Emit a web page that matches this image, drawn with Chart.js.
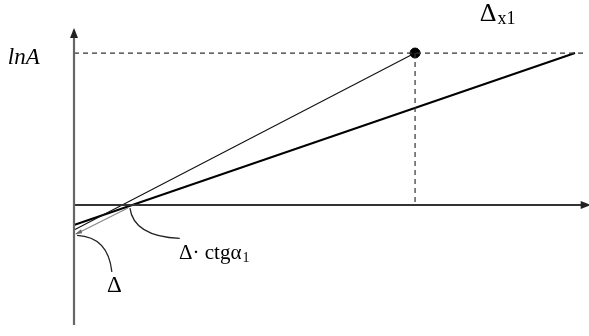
<!DOCTYPE html>
<html>
<head>
<meta charset="utf-8">
<script src="https://cdn.jsdelivr.net/npm/chart.js@4.4.0/dist/chart.umd.min.js"></script>
<style>
  html, body { margin: 0; padding: 0; background: #fff; }
  #wrap { width: 589px; height: 336px; }
</style>
</head>
<body>
<div id="wrap"><canvas id="lnChart"></canvas></div>
<script>
// coordinates in plot units: origin where the axes cross
const axisX = [[0, 0], [15.0, 0]];
const axisY = [[0, -7.9], [0, 11.5]];
const levelLnA = [[0, 10], [15.0, 10]];       // dashed lnA level
const dropX1 = [[10, 10], [10, 0]];           // dashed drop from the point
const mainLine = [[0, -1.32], [14.69, 10]];   // thick line
const thinLine = [[0, -1.64], [10, 10]];      // thin line to the point
const greyLine = [[0.06, -1.91], [1.58, -0.2]];
const markPoint = [[10, 10]];

// leader curves: start, control, end
const leaderDelta = [[0.09, -2.0], [1.0, -2.1], [1.11, -4.4]];
const leaderCtg = [[1.64, -0.2], [1.75, -2.05], [3.1, -2.2]];

const toXY = arr => arr.map(p => ({ x: p[0], y: p[1] }));

// text labels: [text, subscript, x, y, size, italic]
const labels = [
  ['lnA', '', -1.94, 9.3, 23, true],
  ['Δ', 'x1', 11.9, 12.1, 26, false],
  ['Δ· ctgα', '1', 3.08, -3.55, 21, false],
  ['Δ', '', 0.97, -5.7, 23, false]
];

const lineDs = (data, color, width, dash) => ({
  data: toXY(data), borderColor: color, borderWidth: width,
  borderDash: dash || [], pointRadius: 0, fill: false, tension: 0
});

const extras = {
  id: 'extras',
  afterDatasetsDraw(chart) {
    const c = chart.ctx, xs = chart.scales.x, ys = chart.scales.y;
    const px = p => [xs.getPixelForValue(p[0]), ys.getPixelForValue(p[1])];
    c.save();
    // leader curves
    c.strokeStyle = '#222';
    c.lineWidth = 1.3;
    [leaderDelta, leaderCtg].forEach(l => {
      const a = px(l[0]), b = px(l[1]), e = px(l[2]);
      c.beginPath();
      c.moveTo(a[0], a[1]);
      c.quadraticCurveTo(b[0], b[1], e[0], e[1]);
      c.stroke();
    });
    // arrow heads
    c.fillStyle = '#222';
    const tipY = px([0, 11.65]), tipX = px([15.15, 0]), tipD = px([0.03, -1.93]);
    c.beginPath();
    c.moveTo(tipY[0], tipY[1]); c.lineTo(tipY[0] - 4, tipY[1] + 10); c.lineTo(tipY[0] + 4, tipY[1] + 10);
    c.fill();
    c.beginPath();
    c.moveTo(tipX[0], tipX[1]); c.lineTo(tipX[0] - 10, tipX[1] - 4); c.lineTo(tipX[0] - 10, tipX[1] + 4);
    c.fill();
    c.fillStyle = '#666';
    c.beginPath();
    c.moveTo(tipD[0], tipD[1]); c.lineTo(tipD[0] + 6, tipD[1] - 5); c.lineTo(tipD[0] + 7, tipD[1] - 1);
    c.fill();
    // labels
    c.fillStyle = '#000';
    c.textBaseline = 'alphabetic';
    labels.forEach(([t, sub, x, y, size, it]) => {
      const p = px([x, y]);
      c.font = (it ? 'italic ' : '') + size + 'px "Liberation Serif", "Times New Roman", serif';
      c.fillText(t, p[0], p[1]);
      if (sub) {
        const w = c.measureText(t).width;
        c.font = Math.round(size * 0.68) + 'px "Liberation Serif", serif';
        c.fillText(sub, p[0] + w + 1, p[1] + 3);
      }
    });
    c.restore();
  }
};

new Chart(document.getElementById('lnChart'), {
  type: 'scatter',
  data: {
    datasets: [
      lineDs(axisY, '#666', 2.2),
      lineDs(axisX, '#333', 2),
      lineDs(levelLnA, '#333', 1.2, [5, 4]),
      lineDs(dropX1, '#333', 1.2, [5, 4]),
      lineDs(greyLine, '#888', 1.2),
      lineDs(thinLine, '#111', 1.1),
      lineDs(mainLine, '#000', 2),
      {
        data: toXY(markPoint), pointRadius: 5, pointBackgroundColor: '#000',
        pointBorderColor: '#000', showLine: false
      }
    ].map(d => Object.assign({ showLine: true }, d))
  },
  options: {
    responsive: true,
    maintainAspectRatio: false,
    animation: false,
    layout: { padding: 0, autoPadding: false },
    plugins: { legend: { display: false }, tooltip: { enabled: false } },
    scales: {
      x: { type: 'linear', display: false, min: -2.17, max: 15.10 },
      y: { type: 'linear', display: false, min: -8.62, max: 13.49 }
    }
  },
  plugins: [extras]
});
</script>
</body>
</html>
